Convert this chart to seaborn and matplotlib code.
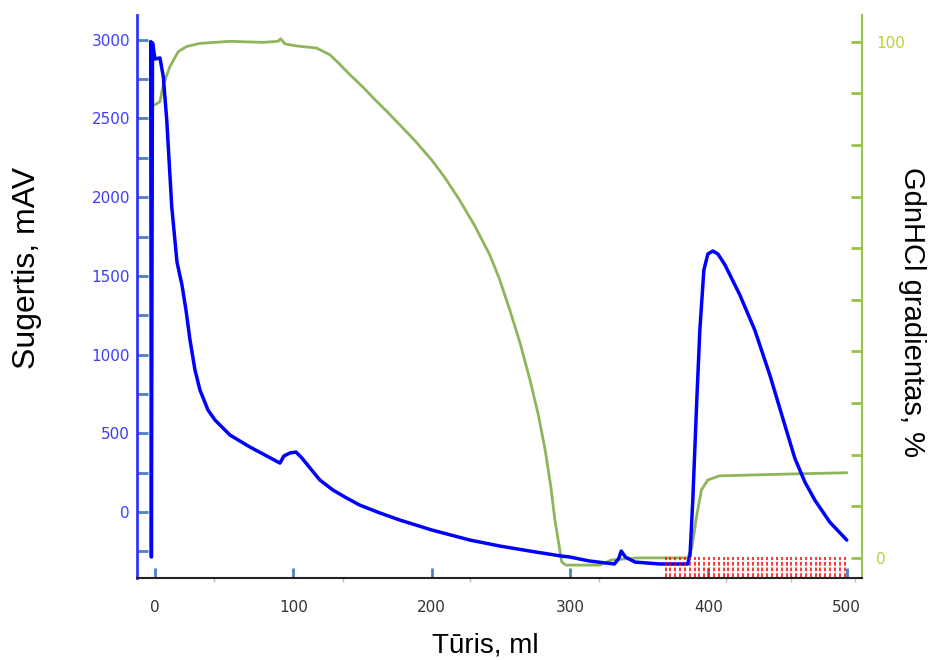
import numpy as np
import pandas as pd
import matplotlib
matplotlib.use("Agg")
import matplotlib.pyplot as plt
from matplotlib.ticker import FixedLocator, FixedFormatter
import seaborn as sns

# ---- data ----
uv_volume = [-3.1, -2.6, -1.8, 0.0, 3.6, 6.0, 8.5, 12.1, 15.9, 19.5, 22.4, 25.3, 28.9,
             32.5, 38.3, 43.4, 54.2, 68.6, 79.5, 90.3, 93.2, 97.5, 101.9, 106.2, 112.0,
             119.2, 128.6, 137.3, 148.0, 162.6, 177.0, 200.0, 227.6, 249.3, 271.0, 289.0,
             294.0, 300.0, 314.0, 332.0, 335.0, 337.0, 340.0, 347.0, 365.0, 385.0, 386.7,
             388.7, 391.6, 393.8, 396.7, 399.6, 403.2, 406.9, 412.0, 422.7, 433.5, 444.4,
             455.2, 462.4, 469.7, 476.9, 487.7, 500.0]
uv_mav = [2988, -286, 2980, 2878, 2884, 2765, 2490, 1940, 1588, 1442, 1283, 1093, 902,
          775, 648, 584, 489, 413, 362, 311, 356, 375, 381, 343, 280,
          203, 140, 95, 44, -6, -51, -114, -178, -216, -248, -273,
          -280, -286, -311, -330, -298, -248, -286, -318, -330, -330, -273,
          76, 712, 1156, 1537, 1639, 1658, 1639, 1569, 1379, 1156, 870,
          553, 343, 191, 76, -64, -178]

grad_volume = [0.0, 3.6, 6.0, 10.8, 16.8, 22.9, 32.5, 54.0, 78.0, 89.0, 90.8, 93.9,
               102.4, 116.8, 126.4, 133.0, 141.0, 150.0, 159.0, 168.0, 177.0, 188.0,
               200.0, 210.0, 220.0, 231.0, 242.0, 249.0, 256.5, 264.0, 271.0, 277.0,
               282.0, 286.0, 289.0, 292.0, 294.0, 297.0, 321.5, 330.0, 350.0, 385.0,
               388.0, 391.6, 395.0, 399.6, 408.0, 437.0, 466.0, 500.0]
grad_pct = [87.8, 88.4, 91.7, 95.2, 98.1, 99.1, 99.7, 100.1, 99.9, 100.1, 100.6, 99.6,
            99.2, 98.8, 97.5, 95.8, 93.6, 91.3, 88.8, 86.4, 83.9, 80.8,
            77.1, 73.5, 69.4, 64.4, 58.7, 54.0, 48.0, 41.5, 34.5, 27.8,
            20.9, 14.0, 7.4, 2.5, -0.8, -1.4, -1.4, -0.4, 0.0, 0.0,
            1.9, 8.3, 13.2, 15.1, 15.9, 16.1, 16.3, 16.5]

fraction_marks = [369, 372.5, 376, 379.5, 383, 386.5, 390, 393.5, 397, 400.5, 404, 407.5,
                  411, 414.5, 418, 421.5, 425, 428.5, 432, 435.5, 439, 442.5, 446, 449.5,
                  453, 456.5, 460, 463.5, 467, 470.5, 474, 477.5, 481, 484.5, 488, 491.5,
                  495, 498.5]

x_ticks = [0, 100, 200, 300, 400, 500]
x_minor = [43, 136, 228, 321, 413, 460, 506]
left_ticks = [0, 500, 1000, 1500, 2000, 2500, 3000]
left_minor = [-250, 250, 750, 1250, 1750, 2250, 2750]
right_ticks = [0, 10, 20, 30, 40, 50, 60, 70, 80, 90, 100]
right_labels = ["0", "", "", "", "", "", "", "", "", "", "100"]

uv_df = pd.DataFrame({"volume": uv_volume, "mAV": uv_mav})
grad_df = pd.DataFrame({"volume": grad_volume, "pct": grad_pct})

# ---- style ----
sns.set_style("white")
plt.rcParams["font.family"] = ["DejaVu Sans"]

BLUE = "#0000ff"
GREEN_LINE = "#8fb55a"
GREEN_AX = "#9bc24a"
GREEN_TXT = "#b7d235"
TICK_BLUE = "#4f81bd"

fig = plt.figure(figsize=(9.3, 6.6), dpi=100)
ax = fig.add_axes([137 / 930, 1 - 578 / 660, (862 - 137) / 930, (578 - 15) / 660])
ax2 = ax.twinx()

# gradient (right axis)
sns.lineplot(data=grad_df, x="volume", y="pct", ax=ax2, color=GREEN_LINE, lw=2.0,
             sort=False, estimator=None)
# UV (left axis)
sns.lineplot(data=uv_df, x="volume", y="mAV", ax=ax, color=BLUE, lw=2.5,
             sort=False, estimator=None)
# fraction marks
ax.vlines(fraction_marks, -415, -285, colors="red", linestyles=(0, (2.5, 1.2)), lw=1.1)

ax.set_zorder(ax2.get_zorder() + 1)
ax.patch.set_visible(False)

ax.set_xlim(-13, 511)
ax.set_ylim(-419, 3157)
ax2.set_ylim(-3.9, 105.2)

# spines
for s in ["top", "right"]:
    ax.spines[s].set_visible(False)
for s in ["top", "left", "bottom"]:
    ax2.spines[s].set_visible(False)
ax.spines["left"].set_color("#3333ff")
ax.spines["left"].set_linewidth(2.0)
ax.spines["bottom"].set_color("#222222")
ax.spines["bottom"].set_linewidth(1.5)
ax2.spines["right"].set_color(GREEN_AX)
ax2.spines["right"].set_linewidth(1.5)

# ticks
ax.yaxis.set_major_locator(FixedLocator(left_ticks))
ax.yaxis.set_minor_locator(FixedLocator(left_minor))
ax.tick_params(axis="y", which="both", direction="in", length=8, width=2,
               color=TICK_BLUE, labelcolor="#3d3dff", labelsize=11, pad=5, left=True)
ax.xaxis.set_major_locator(FixedLocator(x_ticks))
ax.xaxis.set_minor_locator(FixedLocator(x_minor))
ax.tick_params(axis="x", which="major", direction="in", length=7, width=2,
               color=TICK_BLUE, labelcolor="#333333", labelsize=11, pad=16, bottom=True)
ax.tick_params(axis="x", which="minor", direction="out", length=3, width=1,
               color="#c0c0c0", bottom=True)

ax2.yaxis.set_major_locator(FixedLocator(right_ticks))
ax2.yaxis.set_major_formatter(FixedFormatter(right_labels))
ax2.tick_params(axis="y", which="major", direction="in", length=8, width=2,
                color=GREEN_AX, labelcolor=GREEN_TXT, labelsize=11, pad=10, right=True)

ax.set_xlabel("")
ax.set_ylabel("")
ax2.set_ylabel("")
ax.grid(False)
ax2.grid(False)

# axis titles
fam = ["Liberation Sans", "DejaVu Sans"]
fig.text(27 / 930, 1 - 268 / 660, "Sugertis, mAV", rotation=90, ha="center", va="center",
         family=fam, fontsize=23, color="black")
fig.text(485 / 930, 1 - 645 / 660, "Tūris, ml", ha="center", va="center",
         family=fam, fontsize=20, color="black")
fig.text(912 / 930, 1 - 312 / 660, "GdnHCl gradientas, %", rotation=270, ha="center",
         va="center", family=fam, fontsize=21, color="black")

fig.savefig("out.png", dpi=100)
